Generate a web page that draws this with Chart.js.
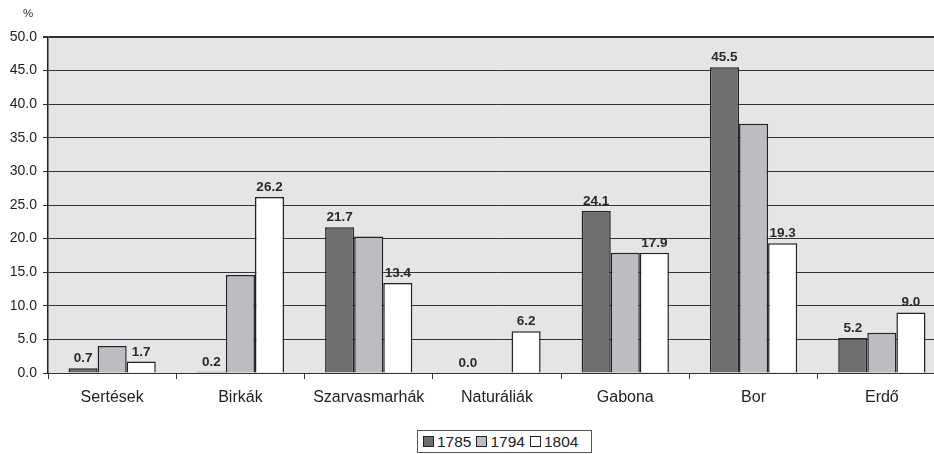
<!DOCTYPE html>
<html>
<head>
<meta charset="utf-8">
<script src="https://cdn.jsdelivr.net/npm/chart.js@4/dist/chart.umd.min.js"></script>
<style>
  html, body { margin: 0; padding: 0; background: #fff; overflow: hidden; }
  #wrap { position: relative; width: 934px; height: 454px; overflow: hidden; }
  #box { position: absolute; left: 0; top: 0; width: 946px; height: 454px; }
  #legend {
    position: absolute; left: 417px; top: 430px; width: 175px; height: 23px;
    border: 1px solid #555; background: #fff;
    font: 15.5px "Liberation Sans", Arial, sans-serif; color: #222;
    display: flex; align-items: center; padding: 0 0 0 5px; box-sizing: border-box;
  }
  #legend span.item { display: flex; align-items: center; margin-right: 5px; }
  #legend span.sw { display: inline-block; width: 11px; height: 11px; border: 1px solid #222; box-sizing: border-box; margin-right: 3px; }
</style>
</head>
<body>
<div id="wrap">
  <div id="box"><canvas id="c" width="946" height="454"></canvas></div>
  <div id="legend"></div>
</div>
<script>
// Categories and yearly shares (%)
const categories = ['Sertések', 'Birkák', 'Szarvasmarhák', 'Naturáliák', 'Gabona', 'Bor', 'Erdő'];
const years = ['1785', '1794', '1804'];
const values1785 = [0.7, 0.2, 21.7, 0.0, 24.1, 45.5, 5.2];
const values1794 = [4.0, 14.6, 20.3, 0.0, 17.9, 37.1, 6.0];
const values1804 = [1.7, 26.2, 13.4, 6.2, 17.9, 19.3, 9.0];
const yTicks = [0, 5, 10, 15, 20, 25, 30, 35, 40, 45, 50];

const fills = ['#6d6e70', '#bcbdc0', '#ffffff'];
const showLabels = [true, false, true];
const FONT = '"Liberation Sans", Arial, sans-serif';

const plotBg = {
  id: 'plotBg',
  beforeDraw(chart) {
    const { ctx, chartArea: a } = chart;
    ctx.save();
    ctx.fillStyle = '#e4e5e6';
    ctx.fillRect(a.left, a.top, a.right - a.left, a.bottom - a.top);
    ctx.restore();
  }
};

const valueLabels = {
  id: 'valueLabels',
  afterDatasetsDraw(chart) {
    const { ctx } = chart;
    ctx.save();
    ctx.font = 'bold 13.5px ' + FONT;
    ctx.fillStyle = '#2a2a2a';
    ctx.textAlign = 'center';
    ctx.textBaseline = 'bottom';
    chart.data.datasets.forEach((ds, i) => {
      if (!showLabels[i]) return;
      chart.getDatasetMeta(i).data.forEach((bar, j) => {
        ctx.fillText(ds.data[j].toFixed(1), bar.x, bar.y - 3);
      });
    });
    ctx.fillStyle = '#333';
    ctx.font = '11.5px ' + FONT;
    ctx.textAlign = 'center';
    ctx.textBaseline = 'middle';
    ctx.fillText('%', 28, 14);
    ctx.restore();
  }
};

const chart = new Chart(document.getElementById('c'), {
  type: 'bar',
  data: {
    labels: categories,
    datasets: [values1785, values1794, values1804].map((d, i) => ({
      label: years[i],
      data: d,
      backgroundColor: fills[i],
      borderColor: '#222',
      borderWidth: 1.5,
      borderSkipped: 'bottom',
      barPercentage: 1,
      categoryPercentage: 0.68
    }))
  },
  options: {
    responsive: false,
    animation: false,
    layout: { padding: { top: 37, right: 0, left: 0, bottom: 0 } },
    plugins: { legend: { display: false }, tooltip: { enabled: false } },
    scales: {
      x: {
        grid: { drawOnChartArea: false, drawTicks: true, tickLength: 6, color: '#333', offset: true },
        border: { color: '#333', width: 1 },
        ticks: { color: '#222', font: { family: FONT, size: 16 }, padding: 9 },
        afterFit(s) { s.height = 81; }
      },
      y: {
        min: 0, max: 50,
        afterBuildTicks(s) { s.ticks = yTicks.map(v => ({ value: v })); },
        grid: {
          color: '#333',
          lineWidth: c => (c.tick && c.tick.value === 50 ? 2 : 1),
          tickLength: 5
        },
        border: { color: '#222', width: 1.5 },
        ticks: {
          color: '#222', font: { family: FONT, size: 14 }, padding: 6,
          callback: v => Number(v).toFixed(1)
        },
        afterFit(s) { s.width = 48; }
      }
    }
  },
  plugins: [plotBg, valueLabels]
});

// Legend built from the datasets
const lg = document.getElementById('legend');
chart.data.datasets.forEach(ds => {
  const it = document.createElement('span');
  it.className = 'item';
  const sw = document.createElement('span');
  sw.className = 'sw';
  sw.style.background = ds.backgroundColor;
  it.appendChild(sw);
  it.appendChild(document.createTextNode(ds.label));
  lg.appendChild(it);
});
</script>
</body>
</html>
